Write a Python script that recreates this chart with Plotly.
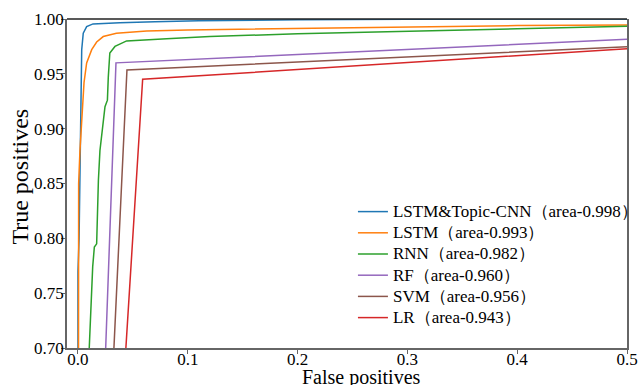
import plotly.graph_objects as go

# ROC curve data (false positive rate, true positive rate)
names = ["LSTM&Topic-CNN（area-0.998）", "LSTM（area-0.993）", "RNN（area-0.982）",
         "RF（area-0.960）", "SVM（area-0.956）", "LR（area-0.943）"]
colors = ["#1f77b4", "#ff7f0e", "#2ca02c", "#9467bd", "#8c564b", "#d62728"]

fpr_lstm_topic = [0, 0, 0.001, 0.002, 0.0027, 0.0034, 0.0048, 0.0079, 0.0137, 0.025, 0.038,
                  0.07, 0.11, 0.2, 0.3, 0.5, 1.0]
tpr_lstm_topic = [0, 0.77, 0.80, 0.90, 0.942, 0.972, 0.987, 0.993, 0.9955, 0.9962, 0.9966,
                  0.9975, 0.9985, 0.9993, 0.9998, 1.0, 1.0]

fpr_lstm = [0, 0.0006, 0.0018, 0.0043, 0.0055, 0.0079, 0.0125, 0.017, 0.023, 0.035, 0.0625,
            0.1, 0.2, 0.3, 0.4, 0.5, 1.0]
tpr_lstm = [0, 0.85, 0.88, 0.917, 0.942, 0.960, 0.972, 0.979, 0.984, 0.987, 0.989,
            0.990, 0.9915, 0.993, 0.994, 0.9946, 1.0]

fpr_rnn = [0, 0.007, 0.0103, 0.0134, 0.0149, 0.017, 0.0186, 0.020, 0.0246, 0.0268, 0.0276,
           0.029, 0.0337, 0.0398, 0.0443, 0.0808, 0.12, 0.2, 0.3, 0.4, 0.5, 1.0]
tpr_rnn = [0, 0.60, 0.701, 0.774, 0.792, 0.795, 0.853, 0.880, 0.920, 0.926, 0.947,
           0.969, 0.975, 0.978, 0.980, 0.982, 0.984, 0.9865, 0.989, 0.991, 0.9933, 1.0]

fpr_rf = [0, 0.0346, 0.5, 1.0]
tpr_rf = [0, 0.960, 0.9815, 1.0]

fpr_svm = [0, 0.0446, 0.5, 1.0]
tpr_svm = [0, 0.9535, 0.9747, 1.0]

fpr_lr = [0, 0.0589, 0.5, 1.0]
tpr_lr = [0, 0.945, 0.9729, 1.0]

x_ticks = [0.0, 0.1, 0.2, 0.3, 0.4, 0.5]
y_ticks = [0.70, 0.75, 0.80, 0.85, 0.90, 0.95, 1.00]

series = [(fpr_lstm_topic, tpr_lstm_topic), (fpr_lstm, tpr_lstm), (fpr_rnn, tpr_rnn),
          (fpr_rf, tpr_rf), (fpr_svm, tpr_svm), (fpr_lr, tpr_lr)]

SERIF = "Liberation Serif"

fig = go.Figure()
for (fx, ty), name, c in zip(series, names, colors):
    fig.add_trace(go.Scatter(x=fx, y=ty, mode="lines",
                             name='<span style="font-size:17px">' + name + '</span>',
                             line=dict(color=c, width=1.5)))

fig.update_layout(
    width=641, height=385,
    margin=dict(l=67, r=14, t=19, b=37, autoexpand=False),
    paper_bgcolor="white", plot_bgcolor="white",
    font=dict(family=SERIF, color="black"),
    showlegend=True,
    legend=dict(x=0.5106, y=0.462, xanchor="left", yanchor="top",
                bgcolor="rgba(0,0,0,0)", borderwidth=0,
                font=dict(family=SERIF, size=14, color="black"),
                tracegroupgap=0),
    xaxis=dict(range=[-0.01, 0.5], tickvals=x_ticks, tickformat=".1f",
               showgrid=False, zeroline=False, showline=True, linecolor="#666",
               linewidth=1.5, mirror=False, ticks="outside", ticklen=4, tickcolor="#666",
               ticklabelstandoff=-9,
               tickfont=dict(family=SERIF, size=17, color="black")),
    yaxis=dict(range=[0.70, 1.00], tickvals=y_ticks, tickformat=".2f",
               showgrid=False, zeroline=False, showline=True, linecolor="#666",
               linewidth=1.5, mirror=True, ticks="outside", ticklen=4, tickcolor="#666",
               ticklabelstandoff=-6,
               tickfont=dict(family=SERIF, size=17, color="black")),
    shapes=[dict(type="line", xref="paper", yref="paper", x0=0, x1=1, y0=1, y1=1,
                 line=dict(color="#222", width=1.5))],
    annotations=[
        dict(text="False positives", xref="paper", yref="paper", x=0.525, y=0,
             xanchor="center", yanchor="middle", yshift=-29, showarrow=False,
             font=dict(family=SERIF, size=20, color="black")),
        dict(text="True positives", xref="paper", yref="paper", x=0, y=0.521,
             xanchor="center", yanchor="middle", xshift=-47, textangle=-90,
             showarrow=False, font=dict(family=SERIF, size=24, color="black")),
    ],
)

fig.write_html("out.html")
